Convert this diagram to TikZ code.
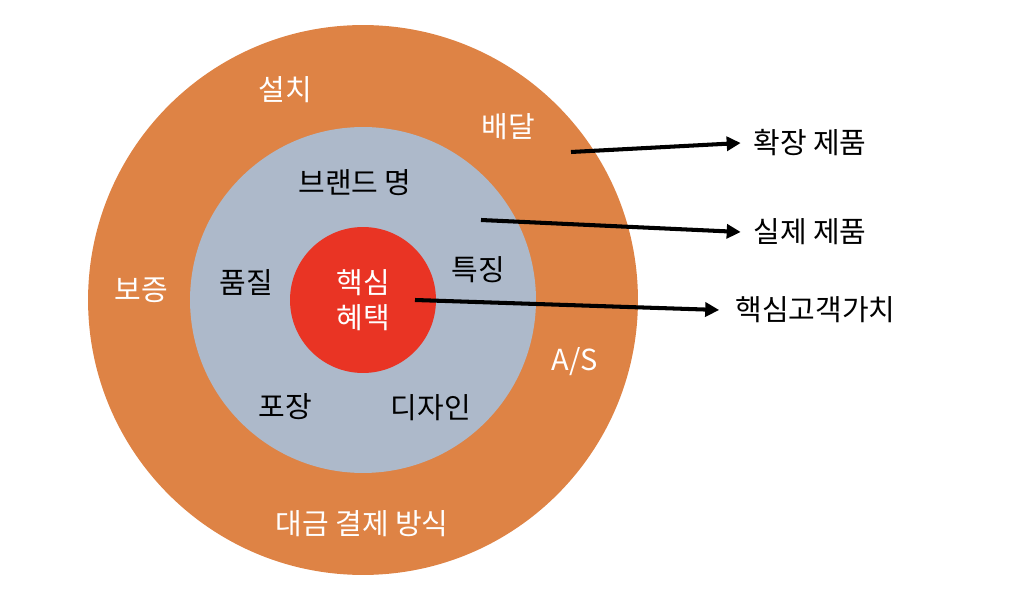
\documentclass[tikz,border=0pt]{standalone}
\usepackage{fontspec}
\setmainfont{Noto Sans CJK KR}
\usetikzlibrary{arrows.meta}

\definecolor{ringorange}{RGB}{222,131,69}
\definecolor{ringgray}{RGB}{173,185,202}
\definecolor{corered}{RGB}{233,52,36}

\begin{document}
\begin{tikzpicture}[x=0.02cm, y=-0.02cm,
  ring/.style={circle, inner sep=0pt},
  whitetext/.style={text=white, font=\fontsize{16.5}{20}\selectfont},
  darktext/.style={text=black, font=\fontsize{16.5}{20}\selectfont},
  sidetext/.style={text=black, anchor=west, inner sep=0pt, font=\fontsize{16.5}{20}\selectfont},
  pointer/.style={line width=2.3pt, -{Triangle[length=2.8mm,width=2.8mm]}}]

\useasboundingbox (0,0) rectangle (1024,604);

% 세 개의 동심원
\node[ring, fill=ringorange, minimum size=11cm] (outer) at (363,300) {};
\node[ring, fill=ringgray, minimum size=6.92cm] (middle) at (363,300) {};
\node[ring, fill=corered, minimum size=2.92cm] (core) at (363,300) {};

% 바깥 원 (확장 제품)
\node[whitetext] (install) at (285,90) {설치};
\node[whitetext] (delivery) at (508,127) {배달};
\node[whitetext] (warranty) at (141,290) {보증};
\node[whitetext] (service) at (575,362) {A/S};
\node[whitetext] (payment) at (362,524) {대금 결제 방식};

% 가운데 원 (실제 제품)
\node[darktext] (brand) at (355,183) {브랜드 명};
\node[darktext] (quality) at (246,283) {품질};
\node[darktext] (feature) at (478,270) {특징};
\node[darktext] (package) at (285,407) {포장};
\node[darktext] (design) at (431,408) {디자인};

% 핵심
\node[whitetext, align=center] (benefit) at (363,300) {핵심\\혜택};

% 오른쪽 설명
\node[sidetext] (augmented) at (753,143) {확장 제품};
\node[sidetext] (actual) at (753,232) {실제 제품};
\node[sidetext] (corevalue) at (735,310) {핵심고객가치};

% 화살표
\coordinate (fromouter) at (571,152);
\coordinate (frommiddle) at (481,220);
\coordinate (fromcore) at (415,300);
\draw[pointer] (fromouter) -- ([xshift=-7pt]augmented.west);
\draw[pointer] (frommiddle) -- ([xshift=-7pt]actual.west);
\draw[pointer] (fromcore) -- ([xshift=-9pt]corevalue.west);

\end{tikzpicture}
\end{document}
